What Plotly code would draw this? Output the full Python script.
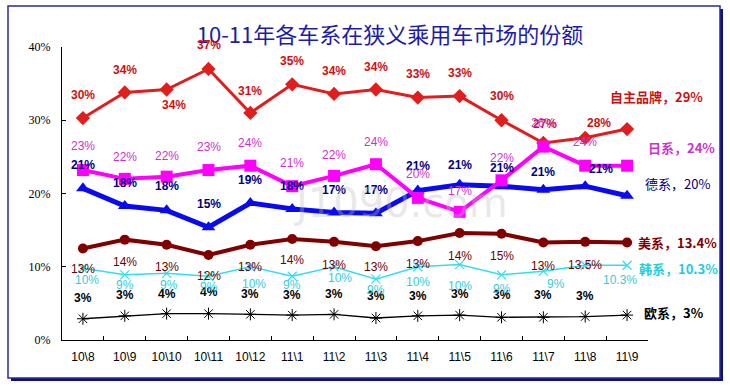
import plotly.graph_objects as go

categories = ["10\\8", "10\\9", "10\\10", "10\\11", "10\\12", "11\\1", "11\\2",
              "11\\3", "11\\4", "11\\5", "11\\6", "11\\7", "11\\8", "11\\9"]

own_brand = [30.3, 33.8, 34.2, 37.0, 31.0, 34.9, 33.6, 34.2, 33.1, 33.3, 30.0, 26.9, 27.6, 28.8]
japan = [23.2, 22.0, 22.3, 23.2, 23.8, 21.0, 22.4, 24.0, 19.4, 17.5, 21.8, 26.4, 23.8, 23.8]
germany = [20.7, 18.3, 17.7, 15.4, 18.7, 17.9, 17.4, 17.3, 20.4, 21.2, 21.0, 20.5, 21.0, 19.7]
usa = [12.5, 13.7, 13.0, 11.6, 13.0, 13.8, 13.4, 12.8, 13.5, 14.6, 14.5, 13.3, 13.4, 13.3]
korea = [9.8, 8.9, 9.1, 8.7, 10.0, 8.7, 10.0, 8.3, 10.0, 10.3, 8.9, 9.4, 10.2, 10.2]
europe = [2.9, 3.3, 3.6, 3.6, 3.5, 3.4, 3.5, 3.0, 3.3, 3.4, 3.1, 3.1, 3.2, 3.4]

own_labels = ["30%", "34%", "34%", "37%", "31%", "35%", "34%", "34%", "33%", "33%", "30%", "27%", "28%"]
japan_labels = ["23%", "22%", "22%", "23%", "24%", "21%", "22%", "24%", "20%", "17%", "22%", "26%", "24%"]
germany_labels = ["21%", "18%", "18%", "15%", "19%", "18%", "17%", "17%", "21%", "21%", "21%", "21%", "21%"]
usa_labels = ["13%", "14%", "13%", "12%", "13%", "14%", "13%", "13%", "13%", "14%", "15%", "13%", "13.5%"]
korea_labels = ["10%", "9%", "9%", "9%", "10%", "9%", "10%", "9%", "10%", "10%", "9%", "9%", "10.3%"]
europe_labels = ["3%", "3%", "4%", "4%", "3%", "3%", "3%", "3%", "3%", "3%", "3%", "3%", "3%"]

end_labels = ["自主品牌，29%", "日系，24%", "德系，20%", "美系，13.4%", "韩系，10.3%", "欧系，3%"]

y_tick_vals = [0, 10, 20, 30, 40]
y_tick_text = ["0%", "10%", "20%", "30%", "40%"]

title_text = "10-11年各车系在狭义乘用车市场的份额"

# label offsets (pixels) -- styling only
own_dy = [23, 22, -16, 24, 22, 23, 23, 22, 24, 23, 24, 19, 15]
own_dx = [0, 0, 7, 0, 0, 0, 0, 0, 0, 0, 0, 2, 14]
japan_dy = [24, 22, 21, 23, 23, 23, 21, 22, 24, 21, 22, 24, 24]
japan_dx = [0] * 13
germany_dy = [23, 23, 24, 23, 23, 23, 23, 23, 25, 20, 18, 18, 17]
germany_dx = [0] * 12 + [16]
usa_dy = [-21, -22, -22, -21, -22, -21, -23, -21, -23, -23, -22, -23, -23]
usa_dx = [0] * 13
korea_dy = [-12, -10, -12, -11, -17, -9, -11, -11, -15, -21, -14, -13, -15]
korea_dx = [4, 0, 2, 0, 4, 0, 6, 0, 0, 0, 0, 13, 35]
europe_dy = [21, 21, 20, 22, 20, 20, 20, 22, 20, 21, 22, 22, 21]
europe_dx = [0] * 13

PL, PR, PT, PB = 62, 648, 47, 340
W, H = 730, 391


def px(x):
    return (x - PL) / (PR - PL)


def py(y):
    return (PB - y) / (PB - PT)


series = [
    dict(name="欧系", y=europe, color="#000000", width=1.3,
         marker=dict(symbol="asterisk-open", size=10, line=dict(width=1, color="#000000")),
         labels=europe_labels, dy=europe_dy, dx=europe_dx, lcolor="#000000", bold=True,
         end=end_labels[5], edx=15, edy=3, ecolor="#000000", ebold=True),
    dict(name="韩系", y=korea, color="#33DDF0", width=1.5,
         marker=dict(symbol="x-thin-open", size=9, line=dict(width=1.2, color="#33DDF0")),
         labels=korea_labels, dy=korea_dy, dx=korea_dx, lcolor="#33CCDD", bold=False,
         end=end_labels[4], edx=10, edy=-3, ecolor="#22CCDD", ebold=True),
    dict(name="美系", y=usa, color="#800000", width=4,
         marker=dict(symbol="circle", size=10, color="#800000"),
         labels=usa_labels, dy=usa_dy, dx=usa_dx, lcolor="#6B0000", bold=False,
         end=end_labels[3], edx=9, edy=0, ecolor="#800000", ebold=True),
    dict(name="德系", y=germany, color="#0A0AF0", width=5,
         marker=dict(symbol="triangle-up", size=12, color="#0A0AF0"),
         labels=germany_labels, dy=germany_dy, dx=germany_dx, lcolor="#000080", bold=True,
         end=end_labels[2], edx=16, edy=12, ecolor="#000080", ebold=False),
    dict(name="自主品牌", y=own_brand, color="#E01E1E", width=3,
         marker=dict(symbol="diamond", size=11, color="#E01E1E"),
         labels=own_labels, dy=own_dy, dx=own_dx, lcolor="#CC1111", bold=True,
         end=end_labels[0], edx=-19, edy=33, ecolor="#CC1111", ebold=True),
    dict(name="日系", y=japan, color="#FF00FF", width=4,
         marker=dict(symbol="square", size=12, color="#FF00FF"),
         labels=japan_labels, dy=japan_dy, dx=japan_dx, lcolor="#CC33CC", bold=False,
         end=end_labels[1], edx=19, edy=18, ecolor="#CC33CC", ebold=True),
]

fig = go.Figure()
annotations = []
for s in series:
    fig.add_trace(go.Scatter(x=categories, y=s["y"], mode="lines+markers", name=s["name"],
                             line=dict(color=s["color"], width=s["width"]),
                             marker=s["marker"], showlegend=False, hoverinfo="skip"))
    for i, lab in enumerate(s["labels"]):
        annotations.append(dict(
            x=categories[i], y=s["y"][i], xref="x", yref="y", text=lab,
            showarrow=False, xshift=s["dx"][i], yshift=s["dy"][i],
            font=dict(family="Liberation Sans", size=12, color=s["lcolor"],
                      weight="bold" if s["bold"] else "normal")))
    annotations.append(dict(
        x=categories[-1], y=s["y"][-1], xref="x", yref="y", text=s["end"],
        showarrow=False, xanchor="left", xshift=s["edx"], yshift=s["edy"],
        font=dict(family="Noto Sans CJK SC", size=13, color=s["ecolor"],
                  weight="bold" if s["ebold"] else "normal")))

# watermark
annotations.append(dict(x=px(400), y=py(203), xref="paper", yref="paper", text="J1090.com",
                        showarrow=False, font=dict(family="DejaVu Sans", size=40,
                                                   color="rgba(190,190,190,0.35)")))

shapes = [
    dict(type="rect", xref="paper", yref="paper", layer="below",
         x0=px(11), x1=px(723), y0=py(381), y1=py(9),
         fillcolor="#10107A", line=dict(width=0)),
    dict(type="rect", xref="paper", yref="paper", layer="below",
         x0=px(8), x1=px(720), y0=py(378), y1=py(6),
         fillcolor="#FFFFFF", line=dict(color="#2A2A9A", width=1.5)),
]

fig.update_layout(
    width=W, height=H,
    margin=dict(l=PL, r=W - PR, t=PT, b=H - PB, autoexpand=False),
    paper_bgcolor="#FFFFFF", plot_bgcolor="rgba(0,0,0,0)",
    title=dict(text=title_text, x=390 / W, y=1 - 35 / H, xanchor="center", yanchor="middle",
               font=dict(family="Noto Sans CJK SC", size=22, color="#1C1CA8")),
    annotations=annotations, shapes=shapes,
    xaxis=dict(type="category", range=[-0.5, 13.5], showline=True, linecolor="#000000",
               linewidth=1, ticks="inside", ticklen=4, tickcolor="#000000",
               tickson="boundaries", showgrid=False, zeroline=False,
               tickangle=0, automargin=False, ticklabelstandoff=6,
               tickfont=dict(family="Liberation Sans", size=12, color="#000000")),
    yaxis=dict(range=[0, 40], tickvals=y_tick_vals, ticktext=y_tick_text,
               showline=True, linecolor="#000000", linewidth=1, ticks="inside",
               ticklen=4, tickcolor="#000000", showgrid=False, zeroline=False,
               ticklabelstandoff=8, automargin=False,
               tickfont=dict(family="Liberation Serif", size=12, color="#000000")),
)

fig.write_html("out.html", config={"displayModeBar": False},
               post_script="document.body.style.margin='0';document.body.style.overflow='hidden';")
